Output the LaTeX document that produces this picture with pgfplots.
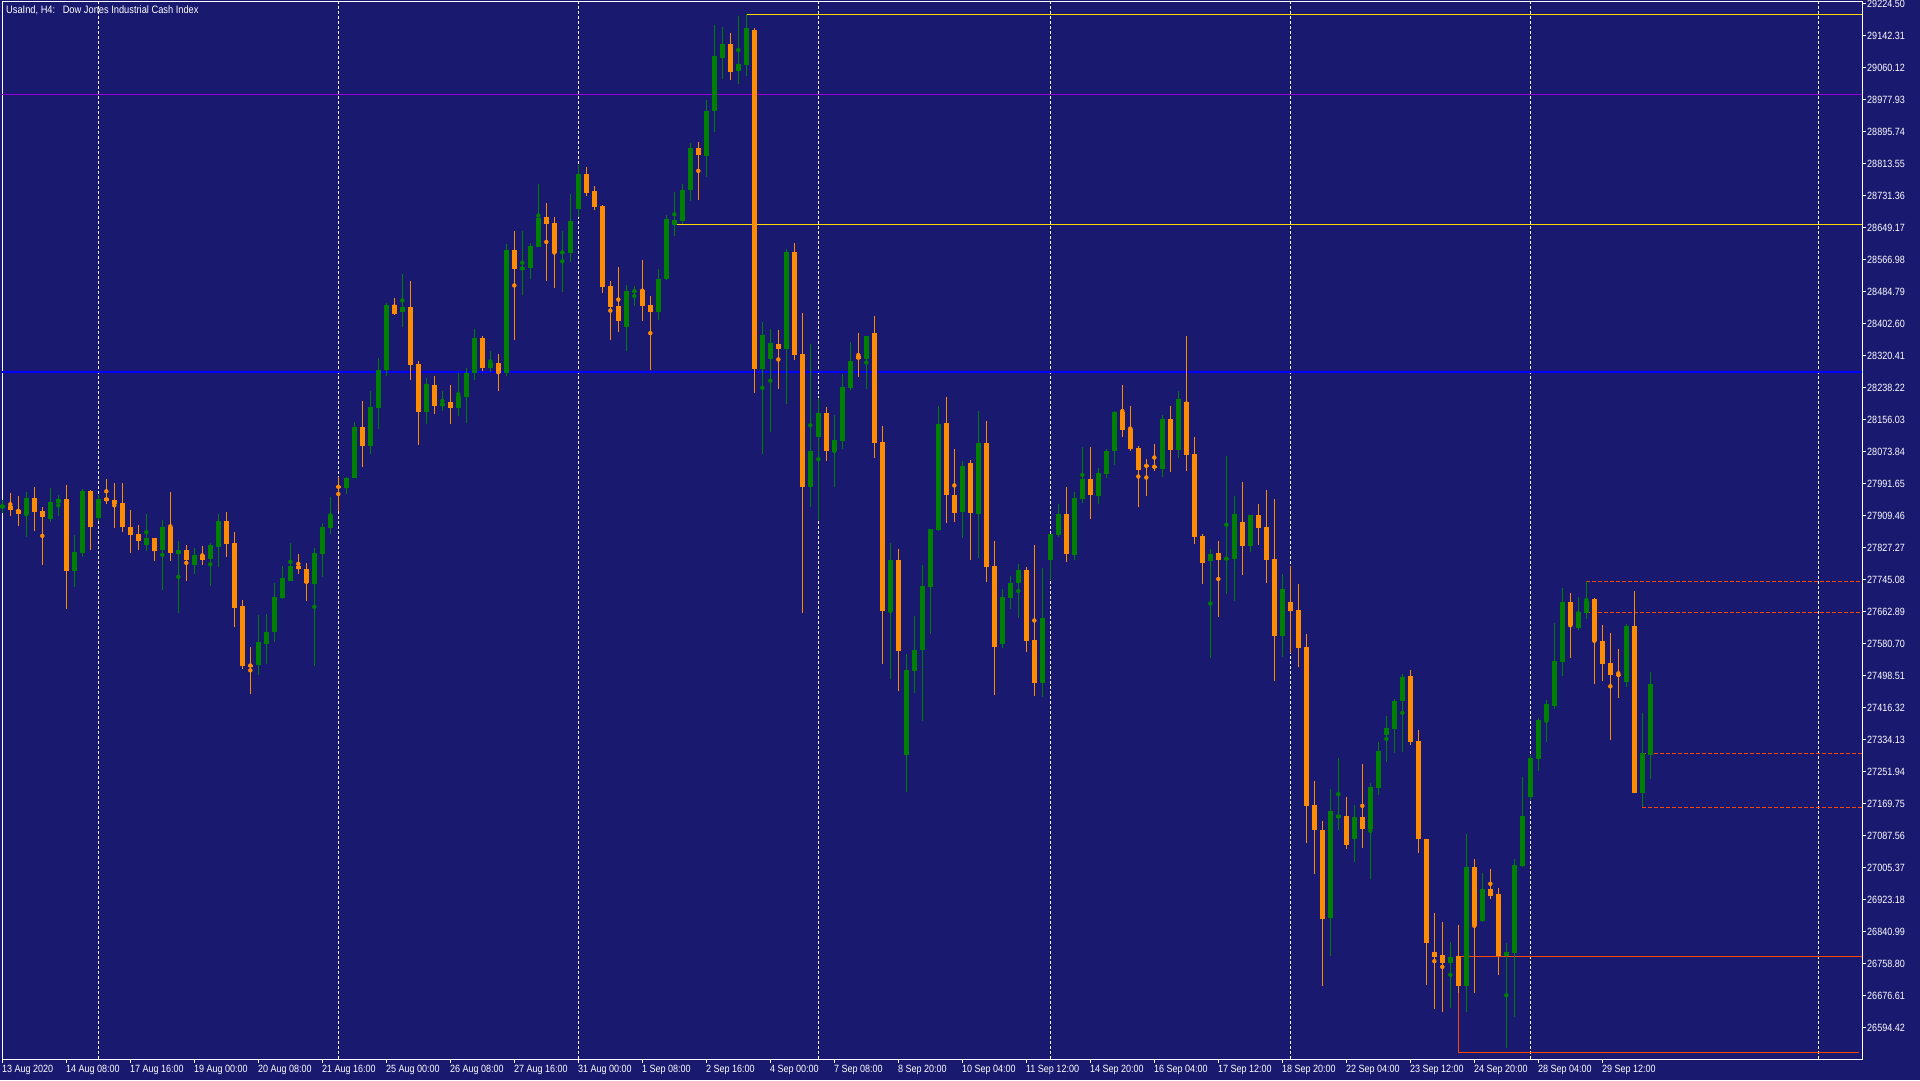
\documentclass[border=0pt]{standalone}
\usepackage{fontspec}
\usepackage{pgfplots}
\usepackage{pgfplotstable}
\pgfplotsset{compat=1.18}
\newfontfamily\mtfont[FakeStretch=0.86]{Liberation Sans}
\definecolor{bg}{RGB}{25,25,112}
\definecolor{cgreen}{RGB}{0,128,0}
\definecolor{corange}{RGB}{255,140,0}
\definecolor{cgold}{RGB}{255,215,0}
\definecolor{cviolet}{RGB}{148,0,211}
\definecolor{cblue}{RGB}{0,0,255}
\definecolor{cred}{RGB}{255,69,0}

\pgfplotstableread{
i o h l c
0 27930.0 27950.0 27915.0 27936.0
1 27933.9 27967.3 27909.0 27924.5
2 27922.7 27959.6 27883.4 27914.2
3 27914.2 27969.8 27855.1 27954.4
4 27954.4 27982.7 27870.5 27919.3
5 27921.0 27931.3 27783.2 27906.5
6 27901.3 27980.1 27893.6 27944.2
7 27942.4 27962.1 27909.0 27951.9
8 27951.9 27987.8 27670.2 27767.8
9 27767.8 27859.4 27726.7 27815.7
10 27814.0 27977.5 27803.8 27972.4
11 27972.4 27975.0 27821.7 27880.8
12 27903.9 27962.1 27896.2 27951.9
13 27954.4 28003.2 27939.9 27947.6
14 27949.3 27992.9 27878.2 27939.9
15 27941.6 27992.9 27868.0 27880.8
16 27880.0 27923.6 27814.0 27860.3
17 27862.0 27885.1 27821.7 27844.8
18 27834.6 27913.3 27819.2 27851.7
19 27851.7 27852.0 27793.5 27819.2
20 27821.7 27897.9 27719.0 27880.0
21 27880.0 27969.8 27793.5 27814.0
22 27811.4 27844.0 27659.9 27820.9
23 27820.9 27833.7 27742.1 27796.0
24 27783.2 27826.0 27760.1 27808.0
25 27808.0 27831.1 27783.2 27796.0
26 27798.6 27838.8 27729.3 27833.7
27 27829.4 27913.3 27778.1 27895.3
28 27895.3 27918.5 27803.8 27837.1
29 27838.8 27867.1 27624.0 27672.8
30 27677.1 27692.5 27516.1 27523.8
31 27525.5 27571.8 27451.9 27522.9
32 27526.4 27653.9 27500.7 27584.6
33 27580.3 27656.5 27528.9 27610.3
34 27611.1 27736.1 27585.5 27700.2
35 27698.5 27779.8 27695.1 27749.0
36 27742.1 27838.9 27742.0 27779.8
37 27779.8 27810.6 27760.1 27772.9
38 27772.1 27787.5 27690.8 27737.0
39 27734.4 27826.0 27523.8 27813.2
40 27811.5 27890.2 27752.4 27879.9
41 27878.2 27957.0 27862.8 27910.8
42 27985.3 28008.4 27921.0 27981.0
43 27981.0 28008.4 27965.6 28005.8
44 28005.8 28149.6 28005.8 28136.8
45 28136.8 28203.6 28034.1 28088.0
46 28088.0 28229.3 28068.3 28188.2
47 28185.6 28314.0 28131.7 28283.2
48 28283.2 28455.3 28268.7 28450.1
49 28450.1 28468.1 28424.5 28427.0
50 28432.2 28529.8 28393.6 28445.0
51 28445.0 28511.8 28257.5 28296.0
52 28298.6 28306.3 28090.6 28175.3
53 28175.3 28262.7 28145.4 28247.2
54 28244.7 28267.8 28171.0 28190.7
55 28190.7 28229.3 28177.9 28198.4
56 28201.0 28244.7 28145.4 28185.6
57 28185.6 28275.5 28165.9 28216.4
58 28213.9 28288.3 28148.0 28275.5
59 28275.5 28388.5 28257.5 28365.4
60 28365.4 28370.5 28280.6 28288.3
61 28289.0 28331.7 28278.8 28301.2
62 28301.2 28324.5 28230.1 28275.8
63 28275.8 28606.9 28268.7 28591.6
64 28591.6 28640.4 28360.1 28542.9
65 28539.8 28640.4 28476.9 28548.0
66 28544.9 28608.9 28517.5 28601.8
67 28598.8 28761.2 28598.8 28673.9
68 28675.9 28712.5 28511.4 28657.7
69 28660.7 28675.9 28494.1 28583.5
70 28583.5 28640.4 28484.0 28586.6
71 28583.5 28735.9 28561.2 28665.8
72 28697.3 28810.0 28674.9 28786.6
73 28786.6 28804.9 28729.8 28737.9
74 28743.0 28756.2 28694.2 28702.3
75 28704.4 28707.4 28480.9 28496.2
76 28499.2 28511.4 28360.1 28445.4
77 28447.4 28547.9 28380.4 28408.8
78 28393.6 28501.2 28332.7 28486.0
79 28484.0 28499.2 28447.4 28486.6
80 28489.1 28565.2 28408.8 28447.4
81 28450.5 28472.8 28282.9 28432.2
82 28432.2 28542.9 28411.9 28516.5
83 28516.5 28681.0 28514.0 28670.9
84 28656.6 28739.9 28626.2 28668.8
85 28665.8 28761.2 28657.7 28745.0
86 28745.0 28865.9 28718.6 28853.7
87 28853.7 28868.9 28720.6 28836.4
88 28833.4 28976.4 28777.5 28948.1
89 28948.1 29169.5 28895.3 29089.3
90 29085.4 29164.0 29030.4 29120.8
91 29120.8 29148.3 29027.8 29047.4
92 29051.3 29192.9 29017.3 29069.7
93 29067.1 29196.8 29039.5 29161.4
94 29156.2 29161.4 28224.5 28284.7
95 28284.7 28406.6 28068.5 28372.5
96 28312.3 28388.3 28123.5 28352.9
97 28350.3 28385.7 28234.9 28335.9
98 28337.2 28594.0 28196.9 28586.1
99 28586.1 28609.7 28309.6 28322.7
100 28324.0 28430.2 27660.0 27982.0
101 27982.0 28350.3 27932.2 28075.0
102 28110.5 28211.3 27896.9 28173.4
103 28173.4 28187.8 28048.9 28075.0
104 28075.0 28168.1 27982.0 28103.9
105 28101.3 28273.0 28080.3 28238.9
106 28237.6 28355.5 28232.3 28305.7
107 28318.8 28377.8 28265.1 28310.9
108 28310.9 28370.0 28234.9 28369.9
109 28377.8 28422.3 28056.7 28096.1
110 28098.7 28139.3 27528.7 27663.6
111 27663.6 27839.2 27489.3 27794.7
112 27794.7 27823.5 27459.2 27561.5
113 27294.1 27553.5 27198.4 27512.9
114 27510.3 27651.8 27453.9 27564.1
115 27564.1 27782.9 27380.5 27727.8
116 27725.2 27875.0 27604.6 27874.6
117 27872.0 28190.4 27869.4 28144.5
118 28147.2 28214.0 27890.3 27962.4
119 27962.4 28080.3 27892.9 27916.5
120 27919.1 28050.2 27851.0 28037.1
121 28044.3 28052.0 27795.2 27915.9
122 27913.3 28177.9 27800.3 28095.7
123 28095.7 28152.2 27738.7 27777.2
124 27779.8 27844.0 27448.5 27571.7
125 27579.4 27720.7 27569.2 27700.2
126 27697.6 27754.1 27669.3 27736.1
127 27736.1 27784.9 27646.2 27769.5
128 27769.5 27777.2 27558.9 27587.2
129 27589.7 27833.7 27445.9 27479.3
130 27479.3 27774.7 27443.3 27646.2
131 27795.2 27862.0 27743.8 27862.0
132 27859.4 27939.0 27854.3 27913.3
133 27913.3 27982.7 27790.1 27810.6
134 27808.0 27969.8 27795.2 27954.4
135 27951.9 28085.4 27941.6 28003.2
136 28003.2 28085.4 27900.5 27962.1
137 27959.6 28031.5 27939.0 28018.6
138 28016.1 28080.3 28005.8 28075.1
139 28075.1 28177.9 28039.2 28175.3
140 28175.3 28244.7 28111.1 28129.1
141 28131.7 28190.7 28075.1 28080.3
142 28082.9 28088.0 27931.3 28026.3
143 28038.5 28054.6 27959.6 28035.9
144 28036.0 28093.1 28023.8 28033.4
145 28028.9 28167.6 28008.4 28157.3
146 28157.3 28190.7 28021.2 28077.7
147 28077.7 28229.3 28057.2 28208.7
148 28201.0 28370.5 28023.8 28064.9
149 28067.4 28111.1 27836.3 27854.3
150 27856.8 27862.0 27733.5 27787.5
151 27792.9 27823.9 27543.2 27810.9
152 27812.9 27843.9 27649.1 27794.9
153 27797.0 28062.7 27709.0 27800.0
154 27797.9 27959.8 27690.0 27912.8
155 27892.9 27995.8 27757.0 27830.9
156 27830.9 27911.0 27815.9 27910.8
157 27910.8 27938.8 27833.9 27877.9
158 27879.9 27974.8 27736.0 27794.9
159 27797.9 27951.8 27484.2 27600.1
160 27600.1 27759.0 27547.2 27721.0
161 27687.0 27780.0 27557.1 27665.0
162 27667.0 27734.0 27521.2 27569.1
163 27572.1 27605.1 27069.5 27164.4
164 27165.4 27227.4 26987.6 27100.5
165 27101.5 27124.5 26701.8 26873.7
166 26875.7 27207.4 26778.7 27150.4
167 27132.5 27286.3 27101.5 27140.4
168 27137.4 27186.4 27053.5 27063.5
169 27079.5 27165.4 27020.6 27135.4
170 27135.4 27271.4 27056.5 27105.5
171 27105.5 27223.4 26975.6 27212.4
172 27210.4 27327.3 27192.4 27304.3
173 27346.3 27394.2 27277.3 27363.3
174 27362.3 27438.2 27298.3 27433.2
175 27433.2 27502.2 27303.3 27494.2
176 27497.2 27512.2 27321.3 27328.3
177 27330.3 27358.3 27042.5 27077.5
178 27078.5 27078.5 26704.8 26812.7
179 26787.7 26888.7 26640.8 26776.7
180 26780.7 26865.7 26634.8 26760.8
181 26761.0 26814.1 26645.4 26775.5
182 26778.1 26857.8 26682.0 26701.9
183 26701.9 27091.5 26635.1 27006.7
184 27006.7 27027.2 26683.9 26856.0
185 26868.9 26991.3 26866.3 26950.2
186 26950.2 27001.6 26925.4 26933.1
187 26937.4 26952.8 26730.2 26777.3
188 26777.3 26811.5 26542.7 26788.4
189 26785.8 27027.2 26622.3 27011.8
190 27010.1 27237.9 27005.8 27137.7
191 27187.4 27294.4 27178.8 27286.6
192 27284.1 27389.4 27254.1 27384.2
193 27385.1 27435.6 27328.6 27425.4
194 27421.1 27633.4 27413.4 27535.8
195 27534.1 27723.3 27498.1 27687.3
196 27687.3 27710.4 27544.4 27628.3
197 27621.4 27700.2 27616.3 27661.6
198 27659.9 27740.4 27644.5 27689.9
199 27695.0 27697.6 27477.6 27588.0
200 27587.2 27628.3 27485.3 27529.0
201 27530.7 27607.7 27333.7 27500.7
202 27501.0 27566.6 27441.6 27498.4
203 27482.7 27630.8 27469.9 27625.7
204 27625.7 27715.6 27197.6 27197.6
205 27197.6 27402.2 27160.0 27298.6
206 27295.2 27507.5 27233.6 27476.7
}\candles

\begin{document}
\begin{tikzpicture}[x=1bp,y=1bp]
\fill[bg] (0,0) rectangle (1920,1080);
\begin{axis}[
  at={(2bp,21bp)}, anchor=south west,
  scale only axis, width=1860bp, height=1057bp,
  xmin=-0.04, xmax=232.46,
  ymin=26513.55, ymax=29228.35,
  axis line style={white, line width=1bp},
  tick style={white, line width=1bp},
  major tick length=4bp,
  tick align=outside,
  xtick pos=bottom, ytick pos=right,
  yticklabel pos=right,
  xtick={0,8,...,200},
  xticklabels={13 Aug 2020,14 Aug 08:00,17 Aug 16:00,19 Aug 00:00,20 Aug 08:00,21 Aug 16:00,25 Aug 00:00,26 Aug 08:00,27 Aug 16:00,31 Aug 00:00,1 Sep 08:00,2 Sep 16:00,4 Sep 00:00,7 Sep 08:00,8 Sep 20:00,10 Sep 04:00,11 Sep 12:00,14 Sep 20:00,16 Sep 04:00,17 Sep 12:00,18 Sep 20:00,22 Sep 04:00,23 Sep 12:00,24 Sep 20:00,28 Sep 04:00,29 Sep 12:00},
  ytick={26594.42,26676.61,26758.80,26840.99,26923.18,27005.37,27087.56,27169.75,27251.94,27334.13,27416.32,27498.51,27580.70,27662.89,27745.08,27827.27,27909.46,27991.65,28073.84,28156.03,28238.22,28320.41,28402.60,28484.79,28566.98,28649.17,28731.36,28813.55,28895.74,28977.93,29060.12,29142.31,29224.50},
  yticklabels={26594.42,26676.61,26758.80,26840.99,26923.18,27005.37,27087.56,27169.75,27251.94,27334.13,27416.32,27498.51,27580.70,27662.89,27745.08,27827.27,27909.46,27991.65,28073.84,28156.03,28238.22,28320.41,28402.60,28484.79,28566.98,28649.17,28731.36,28813.55,28895.74,28977.93,29060.12,29142.31,29224.50},
  tick label style={text=white, font=\mtfont\fontsize{10.5bp}{12bp}\selectfont},
  xticklabel style={anchor=west, inner sep=0.5bp, yshift=-6.5bp, xshift=-1bp},
  yticklabel style={anchor=west, inner sep=1bp},
  extra x ticks={12,42,72,102,131,161,191,227},
  extra x tick labels={},
  extra x tick style={grid=major, major tick length=0pt,
     major grid style={white, line width=1bp, dash pattern=on 3bp off 2bp}},
  clip=true,
]
% horizontal objects
\addplot[cviolet, line width=1.2bp, forget plot] coordinates {(-2,28991.0) (240,28991.0)};
\addplot[cblue, line width=1.6bp, forget plot] coordinates {(-2,28278.0) (240,28278.0)};
\addplot[cgold, line width=1bp, forget plot] coordinates {(93,29196.3) (240,29196.3)};
\addplot[cgold, line width=1bp, forget plot] coordinates {(84,28657.6) (240,28657.6)};
\addplot[cred, line width=1bp, forget plot] coordinates {(182,26777.3) (240,26777.3)};
\addplot[cred, line width=1bp, forget plot] coordinates {(182,26777.3) (182,26529.0) (232.1,26529.0)};
\addplot[cred, line width=1bp, dash pattern=on 4bp off 2bp, forget plot] coordinates {(198,27740.4) (240,27740.4)};
\addplot[cred, line width=1bp, dash pattern=on 4bp off 2bp, forget plot] coordinates {(198,27660.8) (240,27660.8)};
\addplot[cred, line width=1bp, dash pattern=on 4bp off 2bp, forget plot] coordinates {(205,27298.6) (240,27298.6)};
\addplot[cred, line width=1bp, dash pattern=on 4bp off 2bp, forget plot] coordinates {(205,27160.0) (240,27160.0)};
% green wicks
\addplot[cgreen, only marks, mark=none, forget plot,
  error bars/.cd, y dir=both, y explicit, error mark=none,
  error bar style={line width=1bp, cgreen}]
  table[x=i, y expr={(\thisrow{h}+\thisrow{l})/2}, y error expr={(\thisrow{h}-\thisrow{l})/2},
        restrict expr to domain={\thisrow{c}-\thisrow{o}}{0:100000}] {\candles};
% green bodies
\addplot[cgreen, only marks, mark=none, forget plot,
  error bars/.cd, y dir=both, y explicit, error mark=none,
  error bar style={line width=5bp, cgreen}]
  table[x=i, y expr={(\thisrow{o}+\thisrow{c})/2}, y error expr={max(abs(\thisrow{c}-\thisrow{o})/2,1.3)},
        restrict expr to domain={\thisrow{c}-\thisrow{o}}{0:100000}] {\candles};
% orange wicks
\addplot[corange, only marks, mark=none, forget plot,
  error bars/.cd, y dir=both, y explicit, error mark=none,
  error bar style={line width=1bp, corange}]
  table[x=i, y expr={(\thisrow{h}+\thisrow{l})/2}, y error expr={(\thisrow{h}-\thisrow{l})/2},
        restrict expr to domain={\thisrow{c}-\thisrow{o}}{-100000:-0.001}] {\candles};
% orange bodies
\addplot[corange, only marks, mark=none, forget plot,
  error bars/.cd, y dir=both, y explicit, error mark=none,
  error bar style={line width=5bp, corange}]
  table[x=i, y expr={(\thisrow{o}+\thisrow{c})/2}, y error expr={max(abs(\thisrow{c}-\thisrow{o})/2,1.3)},
        restrict expr to domain={\thisrow{c}-\thisrow{o}}{-100000:-0.001}] {\candles};
\end{axis}
\node[anchor=west, text=white, inner sep=0pt, font=\mtfont\fontsize{10.8bp}{12bp}\selectfont] at (6,1070) {UsaInd, H4:\hspace{0.7em}Dow Jones Industrial Cash Index};
\pgfresetboundingbox
\useasboundingbox (0,0) rectangle (1920,1080);
\end{tikzpicture}
\end{document}
